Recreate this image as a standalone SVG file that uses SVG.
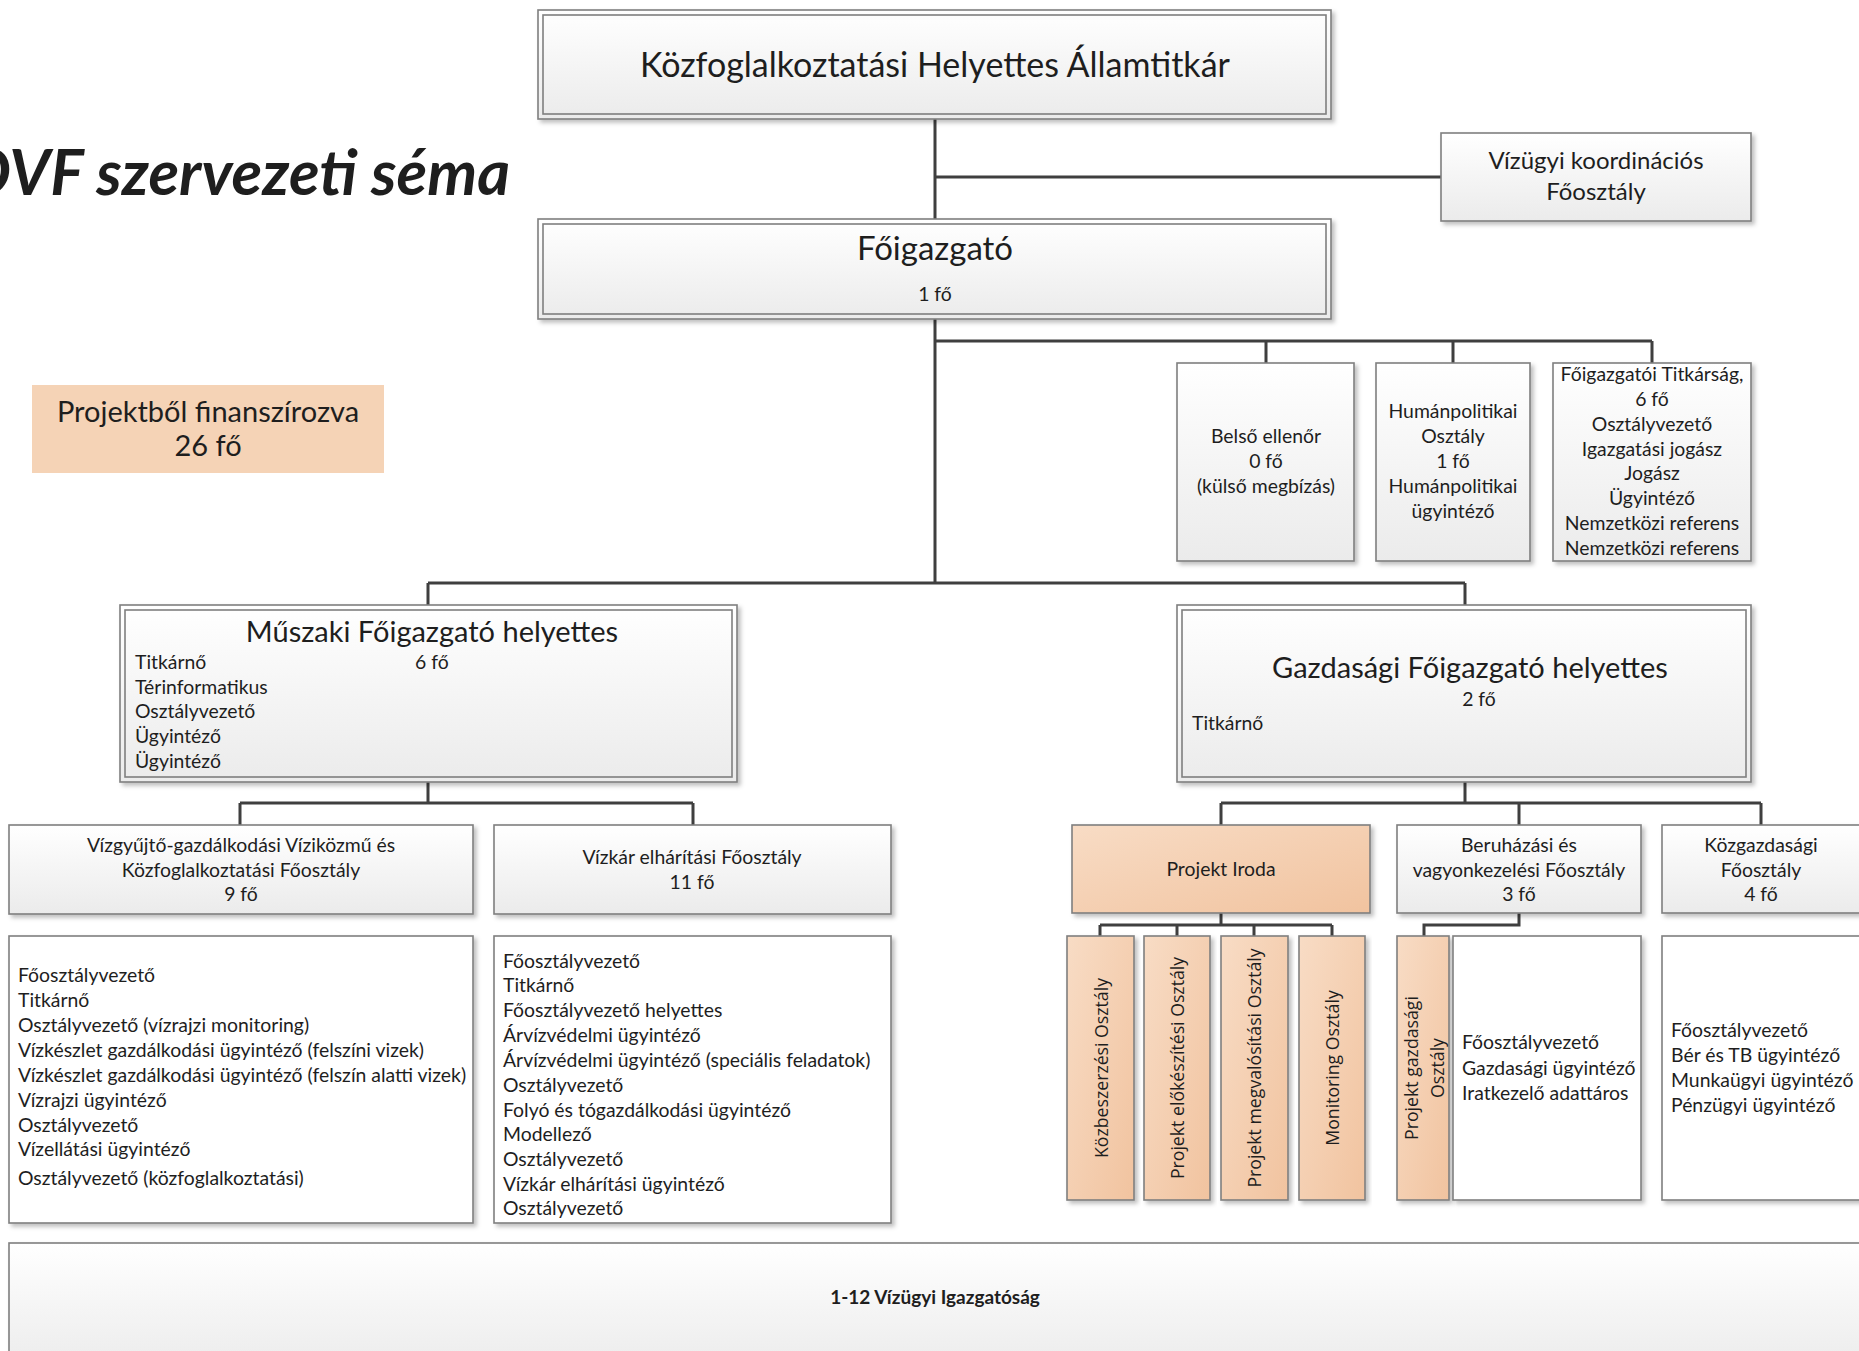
<svg xmlns="http://www.w3.org/2000/svg" width="1859" height="1351" viewBox="0 0 1859 1351">
<defs>
<linearGradient id="gg" x1="0" y1="0" x2="0" y2="1"><stop offset="0" stop-color="#ffffff"/><stop offset="1" stop-color="#ebebeb"/></linearGradient>
<linearGradient id="go" x1="0" y1="0" x2="1" y2="1"><stop offset="0" stop-color="#f8dcc5"/><stop offset="1" stop-color="#f1c39f"/></linearGradient>
<filter id="sh" x="-5%" y="-5%" width="115%" height="120%"><feDropShadow dx="3" dy="3" stdDeviation="2" flood-color="#000" flood-opacity="0.25"/></filter>
<style>
.box{fill:url(#gg);stroke:#7f7f7f;stroke-width:1.6;filter:url(#sh)}
.inner{fill:none;stroke:#7f7f7f;stroke-width:1.6}
.wbox{fill:#fff;stroke:#7f7f7f;stroke-width:1.6;filter:url(#sh)}
.obox{fill:url(#go);stroke:#7f7f7f;stroke-width:1.6;filter:url(#sh)}
.con{fill:none;stroke:#3f3f3f;stroke-width:3}
text{font-family:Lato,"Liberation Sans",sans-serif;fill:#1e1e1e}
.t{font-size:19.4px}
.c{text-anchor:middle}
.big{font-size:29px}
.v{font-family:"Open Sans","Noto Sans",sans-serif;font-size:17.7px;text-anchor:middle;dominant-baseline:central}
</style>
</defs>
<rect width="1859" height="1351" fill="#fff"/>
<text x="510" y="195" style="font-size:63px;font-weight:bold;font-style:italic;text-anchor:end">OVF szervezeti séma</text>

<g id="connectors">
<path class="con" d="M935 119V219M935 177H1441"/>
<path class="con" d="M935 319V583M935 341H1652M1266 341V363M1453 341V363M1652 341V363"/>
<path class="con" d="M428 583H1465M428 583V605M1465 583V605"/>
<path class="con" d="M428 782V803M240 803H693M240 803V825M693 803V825"/>
<path class="con" d="M1465 782V803M1221 803H1761M1221 803V825M1519 803V825M1761 803V825"/>
<path class="con" d="M1221 913V925M1100 925H1332M1100 925V936M1177 925V936M1254 925V936M1332 925V936"/>
<path class="con" d="M1519 913V925H1424V936"/>
</g>

<g id="allamtitkar">
<rect class="box" x="538" y="10" width="793" height="109"/>
<rect class="inner" x="543" y="15" width="783" height="99"/>
<text class="c" x="935" y="77" style="font-size:34px">Közfoglalkoztatási Helyettes Államtitkár</text>
</g>

<g id="vizugyi">
<rect class="box" x="1441" y="133" width="310" height="88"/>
<text class="c" x="1596" y="169" style="font-size:24px">Vízügyi koordinációs</text>
<text class="c" x="1596" y="200" style="font-size:24px">Főosztály</text>
</g>

<g id="foigazgato">
<rect class="box" x="538" y="219" width="793" height="100"/>
<rect class="inner" x="543" y="224" width="783" height="90"/>
<text class="c" x="935" y="260" style="font-size:33px">Főigazgató</text>
<text class="c t" x="935" y="301">1 fő</text>
</g>

<g id="projektbol">
<rect x="32" y="385" width="352" height="88" fill="#f5d3b6"/>
<text class="c big" x="208" y="422">Projektből finanszírozva</text>
<text class="c big" x="208" y="456">26 fő</text>
</g>

<g id="belso">
<rect class="box" x="1177" y="363" width="177" height="198"/>
<text class="c t" x="1266" y="443">Belső ellenőr</text>
<text class="c t" x="1266" y="468">0 fő</text>
<text class="c t" x="1266" y="493">(külső megbízás)</text>
</g>

<g id="human">
<rect class="box" x="1376" y="363" width="154" height="198"/>
<text class="c t" x="1453" y="418">Humánpolitikai</text>
<text class="c t" x="1453" y="443">Osztály</text>
<text class="c t" x="1453" y="468">1 fő</text>
<text class="c t" x="1453" y="493">Humánpolitikai</text>
<text class="c t" x="1453" y="518">ügyintéző</text>
</g>

<g id="titkarsag">
<rect class="box" x="1553" y="363" width="198" height="198"/>
<text class="c t" x="1652" y="381">Főigazgatói Titkárság,</text>
<text class="c t" x="1652" y="406">6 fő</text>
<text class="c t" x="1652" y="431">Osztályvezető</text>
<text class="c t" x="1652" y="456">Igazgatási jogász</text>
<text class="c t" x="1652" y="480">Jogász</text>
<text class="c t" x="1652" y="505">Ügyintéző</text>
<text class="c t" x="1652" y="530">Nemzetközi referens</text>
<text class="c t" x="1652" y="555">Nemzetközi referens</text>
</g>

<g id="muszaki">
<rect class="box" x="120" y="605" width="617" height="177"/>
<rect class="inner" x="125" y="610" width="607" height="167"/>
<text class="c big" x="432" y="642">Műszaki Főigazgató helyettes</text>
<text class="t" x="415" y="669">6 fő</text>
<text class="t" x="135" y="669">Titkárnő</text>
<text class="t" x="135" y="694">Térinformatikus</text>
<text class="t" x="135" y="718">Osztályvezető</text>
<text class="t" x="135" y="743">Ügyintéző</text>
<text class="t" x="135" y="768">Ügyintéző</text>
</g>

<g id="gazdasagi">
<rect class="box" x="1177" y="605" width="574" height="177"/>
<rect class="inner" x="1182" y="610" width="564" height="167"/>
<text class="c big" x="1470" y="678">Gazdasági Főigazgató helyettes</text>
<text class="c t" x="1479" y="706">2 fő</text>
<text class="t" x="1192" y="730">Titkárnő</text>
</g>

<g id="vizgyujto">
<rect class="box" x="9" y="825" width="464" height="89"/>
<text class="c t" x="241" y="852">Vízgyűjtő-gazdálkodási Víziközmű és</text>
<text class="c t" x="241" y="877">Közfoglalkoztatási Főosztály</text>
<text class="c t" x="241" y="901">9 fő</text>
</g>

<g id="vizkar">
<rect class="box" x="494" y="825" width="397" height="89"/>
<text class="c t" x="692" y="864">Vízkár elhárítási Főosztály</text>
<text class="c t" x="692" y="889">11 fő</text>
</g>

<g id="vizgyujto-lista">
<rect class="wbox" x="9" y="936" width="464" height="287"/>
<text class="t" x="18" y="982">Főosztályvezető</text>
<text class="t" x="18" y="1007">Titkárnő</text>
<text class="t" x="18" y="1032">Osztályvezető (vízrajzi monitoring)</text>
<text class="t" x="18" y="1057">Vízkészlet gazdálkodási ügyintéző (felszíni vizek)</text>
<text class="t" x="18" y="1082">Vízkészlet gazdálkodási ügyintéző (felszín alatti vizek)</text>
<text class="t" x="18" y="1107">Vízrajzi ügyintéző</text>
<text class="t" x="18" y="1132">Osztályvezető</text>
<text class="t" x="18" y="1156">Vízellátási ügyintéző</text>
<text class="t" x="18" y="1185">Osztályvezető (közfoglalkoztatási)</text>
</g>

<g id="vizkar-lista">
<rect class="wbox" x="494" y="936" width="397" height="287"/>
<text class="t" x="503" y="968">Főosztályvezető</text>
<text class="t" x="503" y="992">Titkárnő</text>
<text class="t" x="503" y="1017">Főosztályvezető helyettes</text>
<text class="t" x="503" y="1042">Árvízvédelmi ügyintéző</text>
<text class="t" x="503" y="1067">Árvízvédelmi ügyintéző (speciális feladatok)</text>
<text class="t" x="503" y="1092">Osztályvezető</text>
<text class="t" x="503" y="1117">Folyó és tógazdálkodási ügyintéző</text>
<text class="t" x="503" y="1141">Modellező</text>
<text class="t" x="503" y="1166">Osztályvezető</text>
<text class="t" x="503" y="1191">Vízkár elhárítási ügyintéző</text>
<text class="t" x="503" y="1215">Osztályvezető</text>
</g>

<g id="projekt-iroda">
<rect class="obox" x="1072" y="825" width="298" height="88"/>
<text class="c t" x="1221" y="876">Projekt Iroda</text>
</g>

<g id="beruhazasi">
<rect class="box" x="1397" y="825" width="244" height="88"/>
<text class="c t" x="1519" y="852">Beruházási és</text>
<text class="c t" x="1519" y="877">vagyonkezelési Főosztály</text>
<text class="c t" x="1519" y="901">3 fő</text>
</g>

<g id="kozgazdasagi">
<rect class="box" x="1662" y="825" width="220" height="88"/>
<text class="c t" x="1761" y="852">Közgazdasági</text>
<text class="c t" x="1761" y="877">Főosztály</text>
<text class="c t" x="1761" y="901">4 fő</text>
</g>

<g id="kozbeszerzesi">
<rect class="obox" x="1067" y="936" width="67" height="264"/>
<text class="v" transform="translate(1101 1068) rotate(-90)">Közbeszerzési Osztály</text>
</g>
<g id="elokeszitesi">
<rect class="obox" x="1144" y="936" width="66" height="264"/>
<text class="v" transform="translate(1177 1068) rotate(-90)">Projekt előkészítési Osztály</text>
</g>
<g id="megvalositasi">
<rect class="obox" x="1221" y="936" width="67" height="264"/>
<text class="v" transform="translate(1254 1068) rotate(-90)">Projekt megvalósítási Osztály</text>
</g>
<g id="monitoring">
<rect class="obox" x="1299" y="936" width="66" height="264"/>
<text class="v" transform="translate(1332 1068) rotate(-90)">Monitoring Osztály</text>
</g>

<g id="projekt-gazdasagi">
<rect class="obox" x="1397" y="936" width="52" height="264"/>
<text class="v" transform="translate(1424 1068) rotate(-90)"><tspan x="0" y="-13">Projekt gazdasági</tspan><tspan x="0" y="13">Osztály</tspan></text>
</g>

<g id="beruhazasi-lista">
<rect class="wbox" x="1453" y="936" width="188" height="264"/>
<text class="t" x="1462" y="1049">Főosztályvezető</text>
<text class="t" x="1462" y="1075">Gazdasági ügyintéző</text>
<text class="t" x="1462" y="1100">Iratkezelő adattáros</text>
</g>

<g id="kozgazdasagi-lista">
<rect class="wbox" x="1662" y="936" width="220" height="264"/>
<text class="t" x="1671" y="1037">Főosztályvezető</text>
<text class="t" x="1671" y="1062">Bér és TB ügyintéző</text>
<text class="t" x="1671" y="1087">Munkaügyi ügyintéző</text>
<text class="t" x="1671" y="1112">Pénzügyi ügyintéző</text>
</g>

<g id="igazgatosag">
<rect class="box" x="9" y="1243" width="1880" height="130"/>
<text class="c" x="935" y="1304" style="font-size:19px;font-weight:bold">1-12 Vízügyi Igazgatóság</text>
</g>
</svg>
